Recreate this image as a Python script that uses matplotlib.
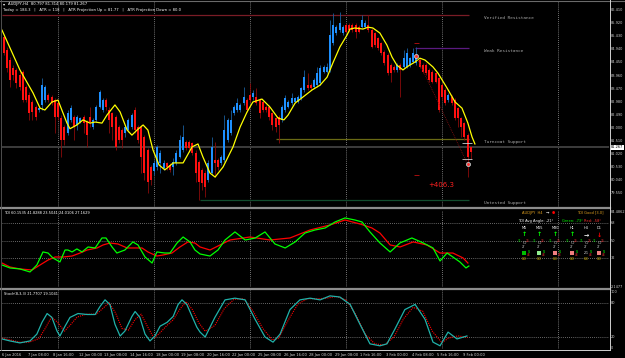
import matplotlib
matplotlib.use("Agg")
import matplotlib.pyplot as plt
from matplotlib.lines import Line2D
from matplotlib.patches import Rectangle
import matplotlib.transforms as mtrans

# ---------------- data ----------------
opens = [85.40, 84.91, 84.54, 84.24, 84.17, 83.98, 84.09, 83.53, 83.23, 82.97,
         82.78, 82.67, 82.86, 83.04, 83.23, 83.16, 83.04, 82.93, 82.37, 82.03,
         81.81, 82.30, 82.41, 82.11, 82.22, 82.41, 82.22, 82.41, 82.03, 82.30,
         82.78, 82.67, 83.04, 82.67, 82.56, 82.41, 82.03, 81.92, 81.81, 81.92,
         82.03, 82.67, 82.03, 82.03, 81.66, 81.17, 80.54, 80.37, 80.54, 80.69,
         80.50, 80.69, 80.61, 80.54, 80.69, 80.91, 81.17, 81.47, 81.47, 81.44,
         81.06, 80.73, 80.43, 80.31, 80.05, 80.31, 80.80, 80.80, 80.69, 80.80,
         81.55, 81.81, 82.56, 82.67, 82.67, 82.93, 83.04, 83.23, 83.16, 83.16,
         83.04, 82.97, 82.78, 82.78, 82.56, 82.37, 82.41, 82.30, 82.67, 82.78,
         82.93, 82.97, 82.97, 83.12, 83.42, 83.60, 83.60, 83.53, 83.60, 83.68,
         84.09, 84.09, 84.17, 85.18, 85.55, 85.66, 85.55, 85.85, 85.85, 85.85,
         85.85, 85.77, 85.77, 85.77, 85.85, 85.66, 85.55, 85.36, 85.18, 84.84,
         84.73, 84.35, 84.28, 84.17, 84.35, 84.28, 84.28, 84.35, 84.47, 84.43,
         84.54, 84.35, 84.35, 84.17, 84.09, 84.05, 83.87, 83.60, 83.42, 83.04,
         83.16, 83.04, 82.74, 82.37, 82.18, 81.74, 81.29]
highs = [85.47, 85.03, 84.65, 84.35, 84.24, 84.09, 84.17, 83.60, 83.34, 83.04,
         82.86, 82.78, 83.87, 83.60, 83.31, 83.23, 83.12, 83.04, 82.48, 82.11,
         82.67, 82.86, 82.48, 82.48, 82.41, 82.48, 82.30, 82.78, 82.37, 82.86,
         83.42, 83.12, 83.12, 82.78, 82.60, 82.48, 82.11, 82.00, 82.11, 82.37,
         82.56, 82.78, 82.11, 82.11, 81.73, 81.25, 80.61, 80.80, 81.36, 81.17,
         80.80, 80.73, 80.69, 80.87, 81.17, 81.73, 82.11, 81.55, 81.55, 81.47,
         81.17, 80.80, 80.50, 80.43, 80.80, 81.66, 81.47, 80.87, 80.99, 82.48,
         82.37, 82.67, 82.86, 83.12, 82.93, 83.53, 83.12, 83.68, 83.42, 83.49,
         83.12, 83.04, 82.86, 82.86, 82.60, 82.41, 82.48, 82.86, 83.23, 83.04,
         83.31, 83.16, 83.23, 83.53, 84.17, 84.05, 83.68, 83.87, 84.28, 84.35,
         84.35, 84.43, 86.04, 86.30, 85.85, 86.34, 85.85, 85.92, 85.92, 85.92,
         85.92, 85.85, 86.22, 86.04, 86.22, 85.74, 85.59, 85.40, 85.21, 84.91,
         84.80, 84.43, 84.35, 84.43, 84.43, 84.91, 84.99, 84.65, 84.99, 85.03,
         84.61, 84.43, 84.43, 84.24, 84.17, 84.09, 83.90, 83.68, 83.49, 83.31,
         83.23, 83.12, 82.78, 82.41, 82.22, 81.81, 81.31]
lows = [84.73, 84.09, 83.53, 83.79, 83.49, 83.42, 82.97, 82.97, 82.30, 82.30,
        82.30, 82.60, 82.67, 82.97, 82.97, 82.86, 81.81, 82.30, 80.91, 81.36,
        81.74, 82.22, 81.55, 81.92, 82.18, 81.81, 81.29, 82.03, 81.97, 82.22,
        82.74, 82.60, 82.67, 81.81, 81.55, 81.17, 81.44, 81.25, 81.66, 81.85,
        81.97, 81.81, 81.44, 80.31, 80.05, 79.57, 79.86, 80.24, 80.43, 80.31,
        80.43, 80.43, 80.35, 80.24, 80.61, 80.87, 81.10, 81.17, 81.10, 80.99,
        79.98, 79.30, 79.68, 79.42, 79.98, 80.24, 80.16, 80.43, 80.61, 80.73,
        81.47, 81.74, 82.48, 82.60, 82.60, 82.86, 82.60, 82.97, 83.04, 82.86,
        82.37, 82.60, 82.60, 82.30, 81.92, 81.85, 81.44, 82.22, 82.60, 82.74,
        82.86, 82.93, 82.93, 83.04, 83.34, 83.42, 83.42, 83.49, 83.53, 83.60,
        84.05, 84.05, 84.09, 85.10, 85.47, 85.59, 85.47, 85.55, 85.59, 85.59,
        85.36, 85.55, 85.74, 85.74, 85.59, 84.99, 85.03, 84.91, 84.73, 84.35,
        83.98, 83.72, 84.09, 84.09, 83.16, 84.24, 84.24, 84.28, 84.43, 84.35,
        84.24, 84.05, 83.98, 83.72, 83.68, 83.68, 82.60, 83.04, 82.86, 82.97,
        82.86, 82.30, 82.03, 81.66, 81.55, 80.16, 80.82]
closes = [84.80, 84.24, 83.79, 83.98, 83.68, 83.53, 83.04, 83.04, 82.56, 82.59,
          82.41, 82.74, 83.60, 83.53, 83.04, 82.93, 82.41, 82.41, 81.55, 81.55,
          82.56, 82.74, 82.03, 82.41, 82.37, 82.18, 81.73, 82.22, 82.30, 82.78,
          83.34, 83.04, 82.78, 82.30, 82.03, 81.29, 81.55, 81.55, 82.03, 82.30,
          82.48, 81.92, 81.55, 80.91, 80.31, 79.98, 80.05, 80.69, 81.29, 81.06,
          80.69, 80.54, 80.43, 80.73, 81.06, 81.55, 81.66, 81.25, 81.25, 81.06,
          80.31, 79.98, 79.94, 79.79, 80.69, 81.29, 80.69, 80.54, 80.91, 81.92,
          82.30, 82.30, 82.78, 82.93, 82.86, 83.16, 82.67, 83.04, 83.31, 82.93,
          82.56, 82.67, 82.67, 82.41, 82.11, 82.03, 82.11, 82.78, 83.12, 82.97,
          83.12, 83.12, 83.16, 83.49, 83.90, 83.49, 83.49, 83.79, 84.05, 84.24,
          84.28, 84.28, 85.47, 85.85, 85.77, 85.92, 85.77, 85.59, 85.66, 85.66,
          85.59, 85.59, 86.04, 85.92, 85.66, 85.03, 85.10, 84.99, 84.80, 84.43,
          84.05, 84.05, 84.17, 84.35, 84.17, 84.61, 84.80, 84.61, 84.80, 84.65,
          84.28, 84.09, 84.05, 83.79, 83.72, 83.72, 82.67, 83.16, 82.93, 83.23,
          82.93, 82.37, 82.37, 82.03, 81.66, 80.91, 81.10]

ma_x = [-0.5, 5.1, 9.2, 11.4, 12.9, 15.1, 17.0, 19.8, 20.75, 22.9, 24.8, 27.0,
        28.6, 30.75, 32.3, 34.8, 36.4, 38.6, 40.1, 41.7, 43.6, 45.1, 46.7, 48.6,
        50.4, 53.0, 56.1, 58.9, 60.75, 62.3, 64.5, 66.1, 68.6, 71.7, 73.9, 76.1,
        77.9, 80.75, 83.25, 85.75, 87.6, 88.9, 91.1, 93.6, 96.4, 98.9, 101.1,
        102.9, 105.1, 107.3, 108.25, 109.8, 112.3, 113.9, 115.4, 117.6, 119.8,
        121.4, 122.9, 124.8, 126.4, 128.6, 130.1, 131.7, 134.2, 135.75, 138.6,
        141.1, 143.25, 145.1, 146.4, 147.3]
ma_y = [85.66, 84.17, 83.31, 82.74, 82.67, 82.97, 83.04, 82.18, 81.97, 82.11,
        82.30, 82.18, 82.22, 82.18, 82.48, 82.86, 82.60, 81.92, 81.73, 81.92,
        82.11, 81.92, 81.17, 80.61, 80.43, 80.69, 80.69, 81.29, 81.40, 80.91,
        80.31, 80.16, 80.54, 81.29, 82.03, 82.60, 82.97, 83.08, 82.78, 82.37,
        82.30, 82.48, 82.93, 83.16, 83.42, 83.60, 83.90, 84.43, 85.03, 85.47,
        85.70, 85.74, 85.70, 85.77, 85.74, 85.55, 85.10, 84.65, 84.35, 84.17,
        84.31, 84.47, 84.61, 84.54, 84.28, 84.05, 83.49, 82.97, 82.74, 82.18,
        81.66, 81.40]

tdi_green_x = [-0.5, 2, 5.1, 8.25, 10.4, 12.3, 13.9, 15.4, 17.6, 19.2, 20.1, 21.4,
               22.9, 24.5, 26.4, 28.6, 30.75, 32, 33.9, 35.4, 37.9, 40.4, 42, 44.2,
               46.4, 47.9, 50.4, 52, 54.2, 56.1, 58.25, 59.8, 61.4, 64.5, 67, 69.2,
               72.3, 75.5, 78.6, 81.7, 84.8, 88, 91.1, 94.2, 97.3, 100.5, 103.6,
               106.7, 109.8, 112, 114.5, 117.6, 120.8, 123.9, 127.6, 131.1, 134.2,
               136.4, 138.6, 140.4, 142.6, 144.5, 145.4]
tdi_green_v = [25.3, 22.2, 21.2, 18.1, 25.3, 38.7, 37.6, 32.5, 28.4, 40.7, 40.7, 38.7,
               41.8, 38.7, 43.8, 42.8, 53.1, 53.1, 43.8, 37.6, 40.7, 49, 45.9, 33.5,
               27.3, 38.7, 37.6, 37.6, 47.9, 54.1, 49, 40.7, 36.6, 34.5, 40.7, 51,
               59.3, 51, 53, 59.3, 46.9, 42.8, 49, 58.2, 61.3, 63.4, 69.6,
               73.7, 71.6, 69.6, 59.3, 48, 38.7, 48, 53.1, 48, 42.8,
               29.4, 37.6, 33.5, 28.4, 22.2, 24.2]
tdi_red_x = [-0.5, 2, 5.1, 8.9, 11.4, 13.9, 16.1, 18.6, 21.4, 23.9, 26.1, 29.2, 31.1,
             33.25, 35.75, 38.6, 41.1, 43.25, 45.1, 47.9, 49.9, 52.6, 55.1, 57.6, 59.8,
             61.4, 64.5, 70.75, 77, 83.25, 89.5, 95.75, 102, 106.7, 111.4, 115.1,
             117.6, 120.8, 123.9, 128, 132.3, 136.4, 140.4, 143.6, 145.1]
tdi_red_v = [27.3, 23.2, 21.2, 20.1, 25.3, 30.4, 33.5, 33.5, 34.5, 37.6, 40.7, 42.8, 45.9,
             47.9, 46.9, 42.8, 42.8, 42.8, 38.7, 34.5, 35.6, 37.6, 43.8, 49, 47.9,
             43.8, 40.7, 51, 54.1, 51, 53.1, 61.3, 66.5, 71.6, 67.5, 63.4,
             58.2, 45.9, 43.8, 49, 45.9, 37.6, 37.6, 32.5, 27.3]

sto_x = [-0.5, 2, 5.1, 8.25, 10.4, 12, 13.6, 15.1, 16.7, 17.6, 19.2, 20.75, 23.25,
         26.1, 28.6, 30.1, 31.7, 33.25, 34.8, 36.4, 37.9, 40.1, 41.1, 42.6, 44.2,
         45.75, 47.3, 48.9, 51.1, 53, 54.5, 55.75, 57.3, 58.9, 60.4, 61.4, 63, 66,
         69.2, 72.3, 75.5, 78.6, 81.7, 84.2, 86.4, 89.5, 92.6, 95.8, 98.9, 102,
         105.1, 108.3, 111.4, 114.5, 117.6, 119.8, 122.3, 125.4, 128.6, 131.7,
         134.2, 136.4, 138.9, 141.7, 144.8]
sto_v = [16.6, 13.1, 9.7, 13.1, 25.1, 45.7, 61.1, 54.3, 30.3, 21.7, 38.9, 54.3, 61.1,
         59.4, 59.4, 73.1, 85.1, 76.6, 42.3, 21.7, 30.3, 56, 64.6, 54.3, 25.1,
         13.1, 21.7, 38.9, 45.7, 56, 76.6, 85.1, 76.6, 56, 37.1, 28.6, 20, 54,
         85, 88, 85, 51, 20, 11, 25, 68, 85, 88, 85, 92,
         90, 77, 42, 8, 4.6, 8, 34, 68, 77, 51,
         11, 4.6, 28.6, 16.6, 21.8]
sig_x = [-0.5, 2, 5, 8, 11, 13, 15, 17, 19, 21, 23, 26, 29, 31, 33, 35, 37, 39, 41, 43,
         45, 47, 49, 51, 53, 55, 57, 59, 61, 63, 66, 69, 72, 75, 78, 81, 84, 86, 89, 92,
         95, 98, 101, 104, 107, 110, 113, 116, 119, 122, 125, 128, 131, 134, 137, 139,
         142, 145]
sig_v = [18, 15, 11, 11, 17, 35, 55, 45, 30, 42, 55, 60, 60, 70, 80, 62, 35, 32, 50, 60,
         38, 18, 28, 40, 50, 68, 82, 68, 45, 30, 40, 70, 86, 87, 65, 35, 15, 18, 50, 78,
         87, 87, 88, 91, 85, 60, 25, 8, 6, 20, 52, 72, 65, 30, 10, 18,
         22, 19.1]

price_ticks = [86.410, 85.920, 85.430, 84.940, 84.450, 83.960, 83.470, 82.980,
               82.490, 82.000, 81.510, 81.020, 80.530, 80.040, 79.550]
time_bars = [0, 8, 16, 24, 32, 40, 48, 56, 64, 72, 80, 88, 96, 104, 112, 120, 128, 136, 144]
time_labels = ["6 Jan 2016", "7 Jan 08:00", "8 Jan 16:00", "12 Jan 00:00", "13 Jan 08:00",
               "14 Jan 16:00", "18 Jan 00:00", "19 Jan 08:00", "20 Jan 16:00",
               "22 Jan 00:00", "25 Jan 08:00", "26 Jan 16:00", "28 Jan 00:00",
               "29 Jan 08:00", "1 Feb 16:00", "3 Feb 00:00", "4 Feb 08:00",
               "5 Feb 16:00", "9 Feb 00:00"]
grid_bars = [17, 47, 77, 107, 137, 173.3]
zones = [("Verified Resistance", 86.22, -0.5, "#7a1c26"),
         ("Weak Resistance", 84.99, 128.6, "#5a1a80"),
         ("Turncoat Support", 81.58, 85.1, "#6a6a14"),
         ("Untested Support", 79.30, 61.4, "#124d2e")]
bid = 81.267
trade_x = [128.9, 145.0]
trade_y = [84.69, 80.65]

# ---------------- layout ----------------
W, H = 625, 358
fig = plt.figure(figsize=(W / 100, H / 100), dpi=100, facecolor="black")
XL = (-0.5, 189.2)


def ax_at(x0, y0, x1, y1):
    a = fig.add_axes([x0 / W, 1 - y1 / H, (x1 - x0) / W, (y1 - y0) / H])
    a.set_facecolor("black")
    for s in a.spines.values():
        s.set_visible(False)
    a.set_xticks([])
    a.set_yticks([])
    a.set_xlim(*XL)
    return a


def ftxt(x, y, s, **kw):
    kw.setdefault("fontsize", 2.6)
    kw.setdefault("color", "white")
    kw.setdefault("va", "center")
    kw.setdefault("ha", "left")
    fig.text(x / W, 1 - y / H, s, **kw)


def fline(x0, y0, x1, y1, **kw):
    fig.add_artist(Line2D([x0 / W, x1 / W], [1 - y0 / H, 1 - y1 / H], **kw))


ax = ax_at(2, 1, 609, 207)
ax.set_ylim(79.04, 86.75)
tdi = ax_at(2, 210, 609, 287)
tdi.set_ylim(2.6, 81.9)
sto = ax_at(2, 290, 609, 349)
sto.set_ylim(-1, 102.3)

for a in (ax, tdi, sto):
    for g in grid_bars:
        a.axvline(g, color="#9a9a9a", lw=0.6, ls=(0, (1, 1.5)), zorder=1)

# zones
for name, lvl, start, col in zones:
    ax.hlines(lvl, start, 145.3, color=col, lw=0.9, zorder=2)
    ax.text(150, lvl - 0.1, name, fontsize=3.2, color="#a8a8a8",
            family="DejaVu Sans Mono", va="center", ha="left")
ax.axhline(bid, color="#3c3c3c", lw=1.4, zorder=1.5)

# candles
for i, (o, h, l, c) in enumerate(zip(opens, highs, lows, closes, strict=True)):
    up = c > o
    body = "#1e90ff" if up else "#ff1010"
    wick = "#1a5f9e" if up else "#8a0a0a"
    ax.vlines(i, l, h, color=wick, lw=0.6, zorder=3)
    ax.bar(i, max(abs(c - o), 0.025), bottom=min(o, c), width=0.62,
           color=body, lw=0, zorder=4)

ax.plot(ma_x, ma_y, color="#ffff00", lw=0.9, zorder=5)

# trade projection
ax.plot(trade_x, trade_y, color="#8a1010", lw=0.6, ls=(0, (1, 1.2)), zorder=5)
ax.scatter(trade_x, trade_y, s=9, color="#b0b0b0", edgecolor="#e0e0e0", lw=0.4, zorder=6)
ax.scatter(trade_x, trade_y, s=1.2, color="#ff3030", zorder=7)
ax.hlines([85.18, 80.24], 128.3, 129.8, color="#c01010", lw=0.6, zorder=5)
ax.hlines([81.45, 80.82], 143.3, 146.3, color="#d0d0d0", lw=0.6, zorder=6)
ax.text(136.8, 79.86, "+406.3", color="#ff2020", fontsize=5, ha="center", va="center")

# price axis labels
tr = mtrans.blended_transform_factory(ax.transAxes, ax.transData)
for p in price_ticks:
    ax.text(1.0035, p, f"{p:.3f}", transform=tr, fontsize=2.5, color="#d0d0d0",
            va="center", ha="left", clip_on=False)
ax.add_patch(Rectangle((1.0015, bid - 0.1), 0.024, 0.2, transform=tr,
                       facecolor="white", edgecolor="none", clip_on=False, zorder=8))
ax.text(1.0035, bid, f"{bid:.3f}", transform=tr, fontsize=2.5, color="black",
        va="center", ha="left", clip_on=False, zorder=9)

# header texts
ftxt(3, 4, "\u25be", fontsize=3)
ftxt(8, 4.5, "AUDJPY,H4  80.797 81.314 80.179 81.267", fontsize=2.7)
ftxt(3, 10, "Today = 184.3   |   ATR = 118   |   ATR Projection Up = 81.77   |   ATR Projection Down = 80.0",
     fontsize=2.7)

# TDI
for lv in (68, 50, 32):
    tdi.axhline(lv, color="#8a8a8a", lw=0.6, ls=(0, (1, 1.5)), zorder=1)
tdi.plot(tdi_red_x, tdi_red_v, color="#ff0000", lw=0.9, zorder=3)
tdi.plot(tdi_green_x, tdi_green_v, color="#00ff00", lw=0.9, zorder=4)
ftxt(4, 213.5, "TDI 60.1535 41.8288 23.5041 24.0106 27.1629", fontsize=2.6)
trt = mtrans.blended_transform_factory(tdi.transAxes, tdi.transData)
for lv in (68, 50, 32):
    tdi.text(1.0035, lv, str(lv), transform=trt, fontsize=2.5, color="#d0d0d0",
             va="center", ha="left", clip_on=False)
ftxt(611, 212, "84.4862", fontsize=2.5, color="#d0d0d0")
ftxt(611, 286.5, "2.1477", fontsize=2.5, color="#d0d0d0")

# TDI info panel
org = "#e0a020"
ftxt(522, 212.5, "AUDJPY  H4", color=org)
ftxt(546, 212.5, "\u2192", color="white", fontsize=3)
ftxt(552, 212.5, "\u25cf", color="#ff0000", fontsize=2.6)
ftxt(577, 212.5, "TDI Good [3.0]", color=org)
ftxt(518, 221, "TDI Avg Angle: -21\u00b0", color="white")
ftxt(562, 221, "Green: -73\u00b0", color="#00ff00")
ftxt(584, 221, "Red: -58\u00b0", color="#ff3030")
cols_x = [524, 539, 555, 572, 586, 599]
tfs = ["M5", "M15", "M30", "H1", "H4", "D1"]
arrows = [("\u2191", "#00ff00")] * 4 + [("\u2192", "white"), ("\u2193", "#ff0000")]
squares = ["#00c000", "#90ee90", "#f08080", "#f08080", None, "#f08080"]
for cx, tf, (ar, ac), sq in zip(cols_x, tfs, arrows, squares):
    ftxt(cx, 228, tf, ha="center", fontsize=2.5)
    ftxt(cx, 235, ar, ha="center", color=ac, fontsize=4.5, weight="bold")
    ftxt(cx - 4, 241.5, "31", color="#00ff00", fontsize=2.2, ha="center")
    ftxt(cx + 4, 241.5, "25", color="#ff3030", fontsize=2.2, ha="center")
    ftxt(cx, 242.5, "O", color="#c0c0c0", fontsize=3.2, ha="center")
    ftxt(cx, 247.5, "27", color="#c0c0c0", fontsize=2.0, ha="center")
    if sq:
        fig.add_artist(Rectangle(((cx - 2) / W, 1 - 255 / H), 4 / W, 4 / H,
                                 facecolor=sq, edgecolor="none"))
    else:
        ftxt(cx, 253, "-21", color="white", fontsize=2.2, ha="center")
    ftxt(cx + 5, 252, "55", color="#00ff00", fontsize=2.0, ha="center")
    ftxt(cx + 5, 255, "48", color="#ff3030", fontsize=2.0, ha="center")
    ftxt(cx, 259, "8.0", color="#e0c000", fontsize=2.2, ha="center")

# Stochastic
for lv in (80, 20):
    sto.axhline(lv, color="#8a8a8a", lw=0.6, ls=(0, (1, 1.5)), zorder=1)
sto.plot(sig_x, sig_v, color="#ff0000", lw=0.8, ls=(0, (1, 1)), zorder=3)
sto.plot(sto_x, sto_v, color="#20b2aa", lw=0.9, zorder=4)
ftxt(4, 294, "Stoch(8,3,3) 21.7707 19.1041", fontsize=2.6)
trs = mtrans.blended_transform_factory(sto.transAxes, sto.transData)
for lv in (80, 20, 0):
    sto.text(1.0035, lv, str(lv), transform=trs, fontsize=2.5, color="#d0d0d0",
             va="center", ha="left", clip_on=False)
ftxt(611, 292, "100", fontsize=2.5, color="#d0d0d0")

# time axis
trx = mtrans.blended_transform_factory(sto.transData, sto.transAxes)
for b, lab in zip(time_bars, time_labels):
    sto.text(b - 0.5, -0.06, lab, transform=trx, fontsize=2.6, color="#d8d8d8",
             va="top", ha="left", clip_on=False)

# separators and borders
fline(0, 208.5, 610, 208.5, color="#8c8c8c", lw=1.6)
fline(0, 288.5, 610, 288.5, color="#8c8c8c", lw=1.6)
fline(0, 0.5, 625, 0.5, color="#6a6a6a", lw=0.8)
fline(609.5, 0, 609.5, 349.5, color="#d0d0d0", lw=0.7)
fline(0, 349.5, 609.5, 349.5, color="#d0d0d0", lw=0.7)
fline(1, 0, 1, 349.5, color="#5a5a5a", lw=0.6)

fig.savefig("out.png", dpi=100, facecolor="black")
